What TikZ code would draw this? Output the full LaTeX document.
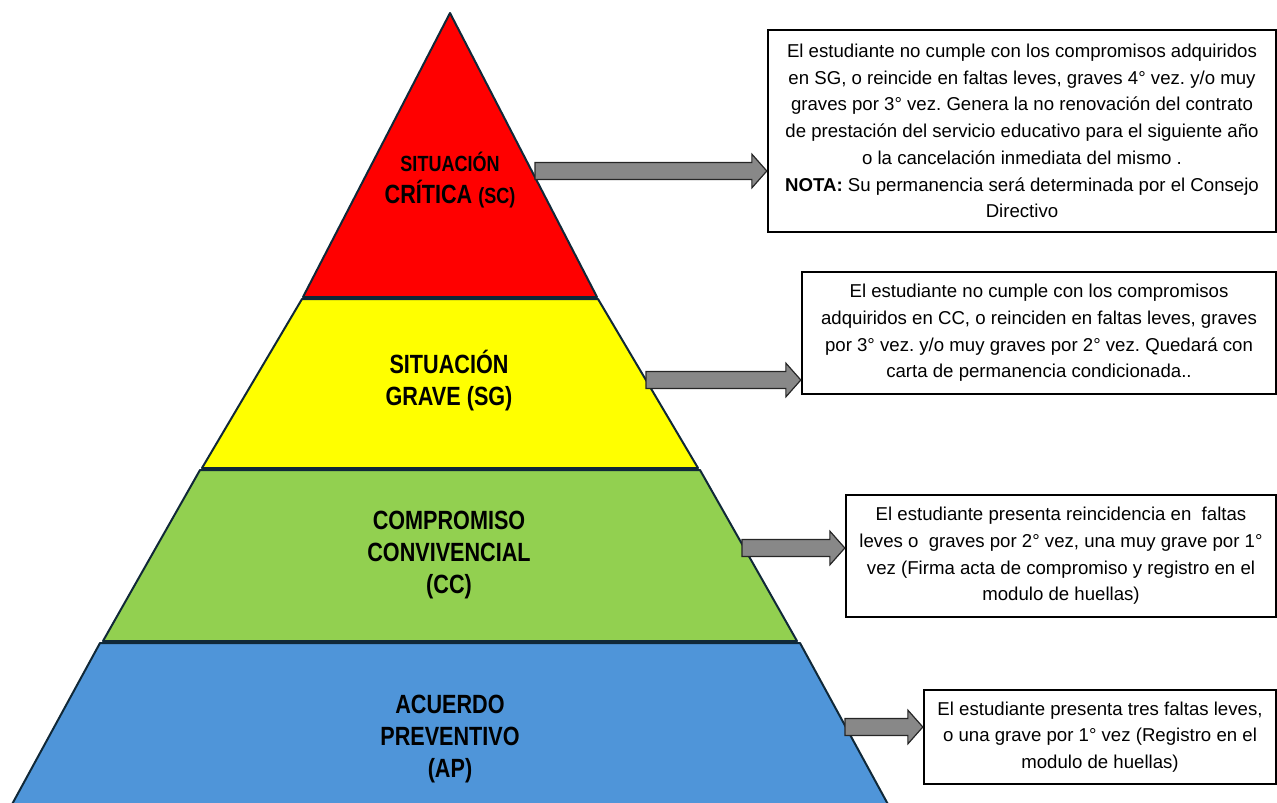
\documentclass[tikz,border=0pt]{standalone}
\usepackage{fontspec}
\setmainfont{Liberation Sans}
\newfontfamily\labelfont[FakeStretch=0.82]{Liberation Sans}
\usepackage{tikz}
\usetikzlibrary{calc}
\frenchspacing

\definecolor{critred}{RGB}{255,0,0}
\definecolor{graveyel}{RGB}{255,255,0}
\definecolor{compgreen}{RGB}{146,208,80}
\definecolor{prevblue}{RGB}{79,149,217}
\definecolor{edgeblue}{RGB}{16,40,56}
\definecolor{arrowgray}{RGB}{136,136,136}

\newdimen\pxu
\pxu=0.02cm

% block arrow from a tail coordinate to a tip coordinate (same height)
\newcommand{\blkarrow}[2]{%
  \draw[blockarrow] let \p1=(#1), \p2=(#2) in
    (\x1,\y1+4.8pt) -- (\x2-8.5pt,\y1+4.8pt) -- (\x2-8.5pt,\y1+9.6pt) -- (\x2,\y1)
    -- (\x2-8.5pt,\y1-9.6pt) -- (\x2-8.5pt,\y1-4.8pt) -- (\x1,\y1-4.8pt) -- cycle;}

\begin{document}
\begin{tikzpicture}[x=0.02cm, y=-0.02cm,
  band/.style={draw=edgeblue, line width=2\pxu, line join=round},
  bandlabel/.style={align=center, font=\labelfont\bfseries\fontsize{15}{18.2}\selectfont},
  infobox/.style={draw=black, line width=2.4\pxu, fill=white, inner sep=0pt, align=center,
    font=\fontsize{10.6}{15.2}\selectfont},
  blockarrow/.style={draw=black!85, fill=arrowgray, line width=1.2\pxu, line join=miter}]
  \useasboundingbox (0,0) rectangle (1277,802);

  % Pyramid bands (top to bottom)
  \filldraw[band, fill=critred] (450,13) -- (597,297) -- (303,297) -- cycle;
  \filldraw[band, fill=graveyel] (302,299) -- (598,299) -- (698,468) -- (202,468) -- cycle;
  \filldraw[band, fill=compgreen] (200,470) -- (700,470) -- (797,641) -- (103,641) -- cycle;
  \filldraw[band, fill=prevblue] (100,643) -- (800,643) -- (890,808) -- (10,808) -- cycle;

  % Band labels
  \node[bandlabel] (sc) at (450,180) {{\fontsize{12.5}{15}\selectfont SITUACIÓN}\\CRÍTICA {\fontsize{12.5}{15}\selectfont (SC)}};
  \node[bandlabel] (sg) at (449,381) {SITUACIÓN\\GRAVE (SG)};
  \node[bandlabel] (cc) at (449,555) {COMPROMISO\\CONVIVENCIAL\\(CC)};
  \node[bandlabel] (ap) at (450,739) {ACUERDO\\PREVENTIVO\\(AP)};

  % Description boxes
  \node[infobox, minimum width=508\pxu, minimum height=202\pxu] (boxsc) at (1022,131)
    {El estudiante no cumple con los compromisos adquiridos\\
     en SG, o reincide en faltas leves, graves 4° vez. y/o muy\\
     graves por 3° vez. Genera la no renovación del contrato\\
     de prestación del servicio educativo para el siguiente año\\
     o la cancelación inmediata del mismo .\\
     \textbf{NOTA:} Su permanencia será determinada por el Consejo\\
     Directivo};
  \node[infobox, minimum width=474\pxu, minimum height=122\pxu] (boxsg) at (1039,333)
    {El estudiante no cumple con los compromisos\\
     adquiridos en CC, o reinciden en faltas leves, graves\\
     por 3° vez. y/o muy graves por 2° vez. Quedará con\\
     carta de permanencia condicionada..};
  \node[infobox, minimum width=430\pxu, minimum height=122\pxu] (boxcc) at (1061,556)
    {El estudiante presenta reincidencia en~ faltas\\
     leves o~ graves por 2° vez, una muy grave por 1°\\
     vez (Firma acta de compromiso y registro en el\\
     modulo de huellas)};
  \node[infobox, minimum width=352\pxu, minimum height=94\pxu] (boxap) at (1100,737)
    {El estudiante presenta tres faltas leves,\\
     o una grave por 1° vez (Registro en el\\
     modulo de huellas)};

  % Arrows from the bands to the boxes
  \coordinate (tsc) at (535,171);
  \coordinate (tsg) at (646,380);
  \coordinate (tcc) at (742,548);
  \coordinate (tap) at (845,727);
  \blkarrow{tsc}{boxsc.west |- tsc}
  \blkarrow{tsg}{boxsg.west |- tsg}
  \blkarrow{tcc}{boxcc.west |- tcc}
  \blkarrow{tap}{boxap.west |- tap}
\end{tikzpicture}
\end{document}
